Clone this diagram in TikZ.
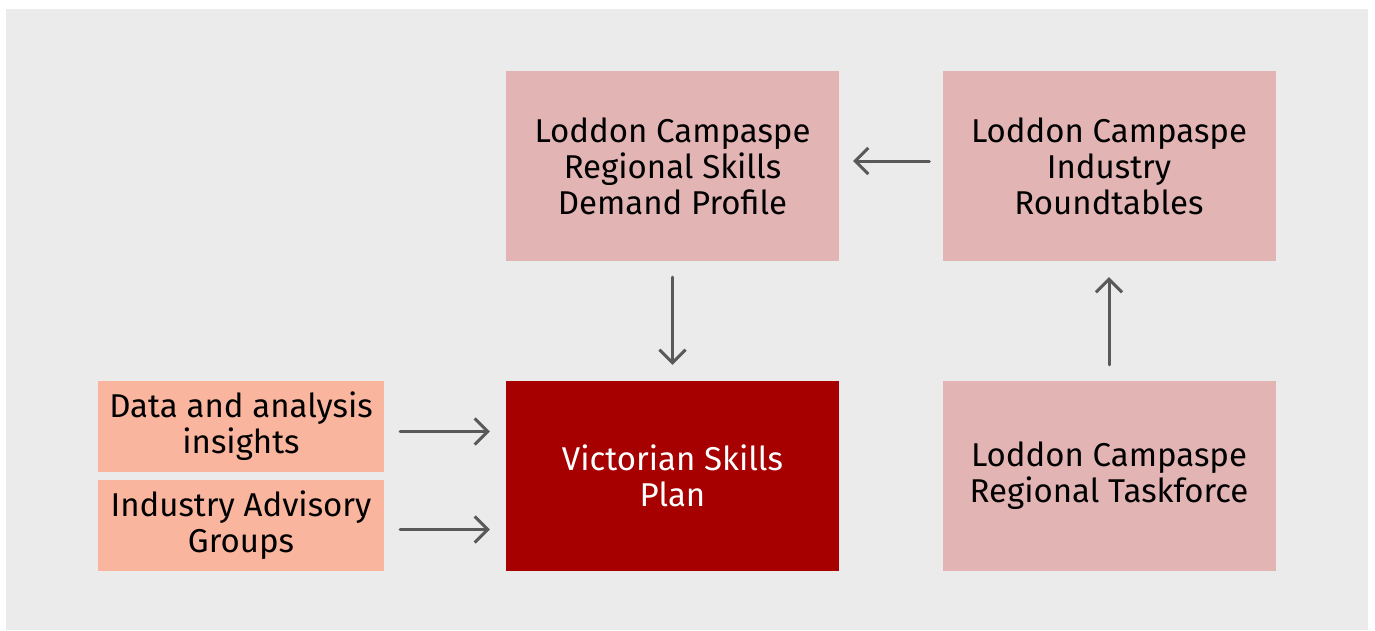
\documentclass[tikz,border=0pt]{standalone}
\usepackage{fontspec}
\setmainfont{Fira Sans}
\usetikzlibrary{arrows.meta}
\definecolor{bggrey}{RGB}{235,235,235}
\definecolor{rosebox}{RGB}{227,180,180}
\definecolor{salmonbox}{RGB}{250,181,158}
\definecolor{planred}{RGB}{166,0,0}
\definecolor{arrowgrey}{RGB}{89,89,89}
\tikzset{
  bigbox/.style={fill=rosebox, minimum width=333pt, minimum height=190pt, align=center, inner sep=0pt},
  smallbox/.style={fill=salmonbox, minimum width=286pt, minimum height=91pt, align=center, inner sep=0pt},
  flow/.style={->, draw=arrowgrey, line width=3pt, shorten >=16pt, shorten <=16pt}
}
\begin{document}
\begin{tikzpicture}[x=1pt, y=-1pt, font=\fontsize{33}{36}\selectfont, line cap=round, line join=round, >={Straight Barb[length=13pt, width=26pt, line width=3pt]}]
				\useasboundingbox (0,0) rectangle (1375,630);
				\fill[bggrey] (6,9) rectangle (1368,630);
				\node[bigbox] (profile) at (672.5,166) {Loddon Campaspe\\Regional Skills\\Demand Profile};
				\node[bigbox] (roundtables) at (1109,166) {Loddon Campaspe\\Industry\\Roundtables};
				\node[bigbox, fill=planred, text=white] (plan) at (672.5,476) {Victorian Skills\\Plan};
				\node[bigbox] (taskforce) at (1109,476) {Loddon Campaspe\\Regional Taskforce};
				\node[smallbox] (data) at (241,426.5) {Data and analysis\\insights};
				\node[smallbox] (advisory) at (241,525.5) {Industry Advisory\\Groups};
				\draw[flow] ([yshift=-5pt]data.east) -- ([yshift=-5pt]data.east -| plan.west);
				\draw[flow] ([yshift=-4pt]advisory.east) -- ([yshift=-4pt]advisory.east -| plan.west);
				\draw[flow] (profile) -- (plan);
				\draw[flow, shorten <=13pt, shorten >=14pt] ([yshift=5pt]roundtables.west) -- ([yshift=5pt]profile.east);
				\draw[flow] (taskforce) -- (roundtables);
			\end{tikzpicture}
\end{document}
